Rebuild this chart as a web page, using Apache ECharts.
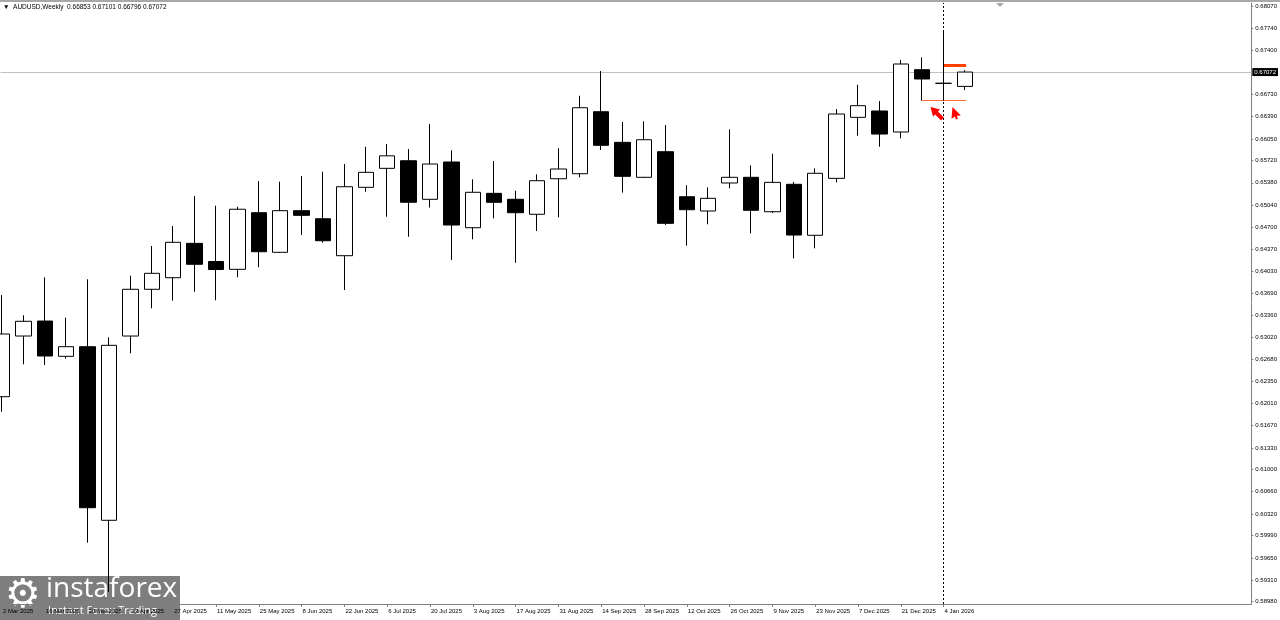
<!DOCTYPE html>
<html><head><meta charset="utf-8">
<script src="https://cdn.jsdelivr.net/npm/echarts@6/dist/echarts.min.js"></script>
<style>html,body{margin:0;padding:0;background:#fff}#c{width:1280px;height:620px}</style>
</head><body><div id="c"></div><script>
const symbolName = 'AUDUSD';
const timeframe = 'Weekly';
const dates = ['2 Mar 2025','9 Mar 2025','16 Mar 2025','23 Mar 2025','30 Mar 2025','6 Apr 2025','13 Apr 2025','20 Apr 2025','27 Apr 2025','4 May 2025',
'11 May 2025','18 May 2025','25 May 2025','1 Jun 2025','8 Jun 2025','15 Jun 2025','22 Jun 2025','29 Jun 2025','6 Jul 2025','13 Jul 2025',
'20 Jul 2025','27 Jul 2025','3 Aug 2025','10 Aug 2025','17 Aug 2025','24 Aug 2025','31 Aug 2025','7 Sep 2025','14 Sep 2025','21 Sep 2025',
'28 Sep 2025','5 Oct 2025','12 Oct 2025','19 Oct 2025','26 Oct 2025','2 Nov 2025','9 Nov 2025','16 Nov 2025','23 Nov 2025','30 Nov 2025',
'7 Dec 2025','14 Dec 2025','21 Dec 2025','28 Dec 2025','4 Jan 2026','11 Jan 2026'];
const open = [0.62112,0.63039,0.63268,0.62729,0.62876,0.60224,0.63039,0.63753,0.63930,0.64455,
0.64177,0.64058,0.64923,0.64318,0.64954,0.64831,0.64266,0.65311,0.65601,0.65717,
0.65128,0.65698,0.64694,0.65219,0.65128,0.64899,0.65442,0.65519,0.66466,0.65998,
0.65464,0.65855,0.65167,0.64949,0.65377,0.65464,0.64938,0.65357,0.64578,0.65448,
0.66380,0.66477,0.66156,0.67108,0.66900,0.66853];
const close = [0.63070,0.63264,0.62734,0.62876,0.60416,0.62897,0.63753,0.63997,0.64471,0.64135,
0.64055,0.64976,0.64327,0.64954,0.64883,0.64495,0.65320,0.65540,0.65792,0.65083,
0.65667,0.64735,0.65235,0.65082,0.64923,0.65412,0.65591,0.66527,0.65953,0.65479,
0.66038,0.64761,0.64969,0.65143,0.65464,0.64960,0.65387,0.64582,0.65525,0.66431,
0.66558,0.66125,0.67195,0.66966,0.66900,0.67072];
const low = [0.61883,0.62607,0.62596,0.62693,0.59882,0.59128,0.62775,0.63462,0.63579,0.63716,
0.63585,0.63936,0.64089,0.64307,0.64582,0.64465,0.63742,0.65244,0.64862,0.64556,
0.65002,0.64200,0.64517,0.64837,0.64159,0.64643,0.64853,0.65464,0.65881,0.65229,
0.65453,0.64735,0.64419,0.64746,0.65296,0.64608,0.64918,0.64226,0.64379,0.65387,
0.66099,0.65931,0.66060,0.66634,0.66634,0.66796];
const high = [0.63666,0.63356,0.63936,0.63319,0.63906,0.63019,0.63960,0.64414,0.64720,0.65178,
0.65030,0.65015,0.65407,0.65397,0.65484,0.65549,0.65667,0.65931,0.65972,0.65896,
0.66278,0.65876,0.65433,0.65713,0.65259,0.65510,0.65907,0.66710,0.67088,0.66309,
0.66319,0.66263,0.65342,0.65311,0.66197,0.65647,0.65824,0.65392,0.65601,0.66507,
0.66878,0.66629,0.67256,0.67297,0.67688,0.67101];
const yTickLabels = ['0.68070','0.67740','0.67400','0.66730','0.66390','0.66050','0.65720','0.65380','0.65040','0.64700',
'0.64370','0.64030','0.63690','0.63360','0.63020','0.62680','0.62350','0.62010','0.61670','0.61330',
'0.61000','0.60660','0.60320','0.59990','0.59650','0.59310','0.58980'];
const xLabelIndices = dates.map((d,i)=>i).filter(i=>i%2===0);
const currentPrice = 0.67072;
const markedWeek = 44;
const upperLevel = 0.67175;
const lowerLevel = 0.66634;
const arrowPoints = [[43.67, 0.66446, 45], [44.52, 0.66446, 20]];

const last = dates.length - 1;
const candles = dates.map((d,i)=>[i, open[i], close[i], low[i], high[i]]);
const FONT = 'Liberation Sans';

const chart = echarts.init(document.getElementById('c'), null, {renderer:'canvas'});
chart.setOption({
  animation: false,
  backgroundColor: '#ffffff',
  title: {
    text: '\u25BC  ' + symbolName + ',' + timeframe + '  ' + [open[last],high[last],low[last],close[last]].map(v=>v.toFixed(5)).join(' '),
    left: 3, top: 4, padding: 0,
    textStyle: {fontSize: 6.5, fontWeight: 'normal', color: '#000', fontFamily: FONT}
  },
  grid: {left: 0, right: 28, top: 3, bottom: 16},
  xAxis: {
    type: 'value', min: -0.07, max: 58.38,
    splitLine: {show: false},
    axisLine: {show: true, onZero: false, lineStyle: {color: '#808080'}},
    axisTick: {show: true, customValues: xLabelIndices, length: 3, lineStyle: {color: '#808080'}},
    axisLabel: {customValues: xLabelIndices, formatter: v => dates[Math.round(v)] || '', align: 'left',
      margin: 4, fontSize: 6, color: '#000', fontFamily: FONT, padding: [0,0,0,1]}
  },
  yAxis: {
    type: 'value', position: 'right', min: 0.58945, max: 0.68127, scale: true,
    splitLine: {show: false},
    axisLine: {show: true, onZero: false, lineStyle: {color: '#808080'}},
    axisTick: {show: true, customValues: yTickLabels.map(Number), length: 2, lineStyle: {color: '#808080'}},
    axisLabel: {customValues: yTickLabels.map(Number), formatter: v => v.toFixed(5), margin: 4,
      fontSize: 6, color: '#000', fontFamily: FONT}
  },
  series: [{
    type: 'candlestick',
    data: candles,
    barWidth: 16,
    clip: true,
    z: 3,
    itemStyle: {color: '#ffffff', color0: '#000000', borderColor: '#000000', borderColor0: '#000000', borderWidth: 1},
    emphasis: {disabled: true},
    markLine: {
      silent: true, symbol: ['none','none'], animation: false, precision: 5, z: 1,
      data: [
        {yAxis: currentPrice, lineStyle: {color: '#c0c0c0', type: 'solid', width: 1},
          label: {show: true, position: 'end', formatter: currentPrice.toFixed(5), backgroundColor: '#000',
            color: '#fff', fontSize: 6, fontFamily: FONT, padding: [1,2,1,2], distance: 1}},
        {xAxis: markedWeek, lineStyle: {color: '#000', type: [2,2], width: 1}, label: {show: false}},
        [{coord: [markedWeek, upperLevel], lineStyle: {color: '#ff4000', type: 'solid', width: 3}, label: {show: false}},
         {coord: [last + 0.05, upperLevel]}],
        [{coord: [markedWeek - 1, lowerLevel], lineStyle: {color: '#ff6a3a', type: 'solid', width: 1}, label: {show: false}},
         {coord: [last + 0.05, lowerLevel]}]
      ]
    },
    markPoint: {
      silent: true, animation: false,
      label: {show: false},
      itemStyle: {color: '#ff0000'},
      data: [
        {coord: [arrowPoints[0][0], arrowPoints[0][1]], symbol: 'path://M5,0 L10,8 L7,8 L7,16 L3,16 L3,8 L0,8 Z', symbolSize: [10, 17], symbolRotate: arrowPoints[0][2]},
        {coord: [arrowPoints[1][0], arrowPoints[1][1]], symbol: 'path://M5,0 L10,10 L6,9 L6,12 L4,12 L4,9 L0,10 Z', symbolSize: [10, 13], symbolRotate: arrowPoints[1][2]}
      ]
    }
  }],
  graphic: [
    {type: 'rect', left: 0, top: 0, shape: {width: 1280, height: 2}, style: {fill: '#a8a8a8'}, silent: true},
    {type: 'polygon', shape: {points: [[996,3],[1004,3],[1000,7]]}, style: {fill: '#a8a8a8'}, silent: true},
    {type: 'group', left: 0, top: 575, silent: true, children: [
      {type: 'rect', shape: {x: 0, y: 0, width: 180, height: 45}, style: {fill: 'rgba(112,112,112,0.9)'}},
      {type: 'text', x: 5, y: 1, style: {text: '\u2699', fill: '#fff', fontSize: 40, fontFamily: 'DejaVu Sans'}},
      {type: 'text', x: 46, y: -1, style: {text: 'instaforex', fill: '#fff', fontSize: 28, fontFamily: 'Open Sans'}},
      {type: 'text', x: 48, y: 29, style: {text: 'Instant Forex Trading', fill: '#fff', fontSize: 11, fontFamily: 'Open Sans'}}
    ]}
  ]
});
</script></body></html>
